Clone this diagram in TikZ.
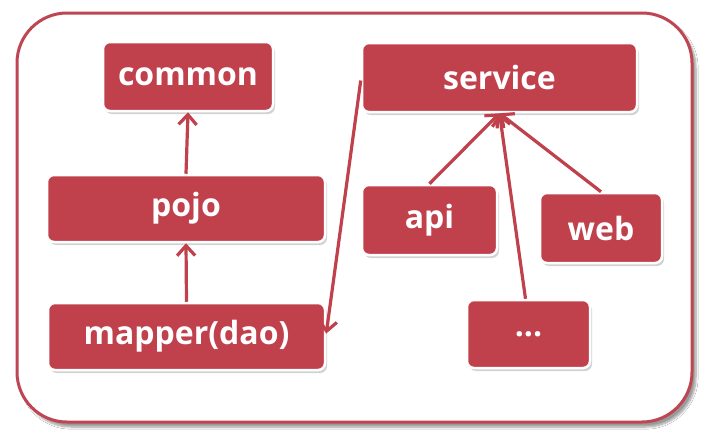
\documentclass[tikz,border=0pt]{standalone}
\usepackage{fontspec}
\setmainfont{Open Sans}
\usetikzlibrary{shadows,arrows.meta,shadows.blur}
\definecolor{boxred}{RGB}{192,64,76}
\definecolor{framered}{RGB}{190,70,82}
\tikzset{
  modbox/.style={draw=white, line width=2.5pt, fill=boxred, rounded corners=7pt,
    text=white, font=\fontsize{32}{36}\selectfont\bfseries, inner sep=0pt,
    drop shadow={opacity=0.35, shadow xshift=2pt, shadow yshift=-3pt}},
  dep/.style={draw=boxred, line width=3.2pt,
    -{Straight Barb[length=10pt,width=18pt,line width=3.2pt]}},
}
\begin{document}
\begin{tikzpicture}[x=1pt,y=-1pt]
\useasboundingbox (0,0) rectangle (716,440);
\fill[white] (0,0) rectangle (716,440);
% outer frame
\node[draw=framered, line width=3pt, fill=white, rounded corners=50pt,
  minimum width=675pt, minimum height=409pt, inner sep=0pt,
  blur shadow={shadow xshift=4pt, shadow yshift=-5pt, shadow opacity=40, shadow blur steps=8}]
  (frame) at (354.5,217.5) {};
% boxes
\node[modbox, minimum width=170pt, minimum height=69pt] (common) at (188,76.5) {common};
\node[modbox, minimum width=275pt, minimum height=69pt] (service) at (499.5,77.5) {service};
\node[modbox, minimum width=278pt, minimum height=67pt] (pojo) at (186,208.5) {pojo};
\node[modbox, minimum width=277pt, minimum height=67pt] (mapper) at (186.5,336.5) {mapper(dao)};
\node[modbox, minimum width=135pt, minimum height=70pt] (api) at (429.5,220) {api};
\node[modbox, minimum width=122pt, minimum height=70pt] (web) at (601,228) {web};
\node[modbox, minimum width=123pt, minimum height=68pt] (dots) at (528.5,334) {...};
% connectors
\draw[dep] (pojo.north) -- (common.south);
\draw[dep] (mapper.north) -- (pojo.south);
\draw[dep] ([yshift=-3pt]service.west) -- ([yshift=3pt]mapper.east);
\draw[dep] (api.north) -- (service.south);
\draw[dep] (web.north) -- (service.south);
\draw[dep] ([xshift=-3pt]dots.north) -- (service.south);
\end{tikzpicture}
\end{document}
